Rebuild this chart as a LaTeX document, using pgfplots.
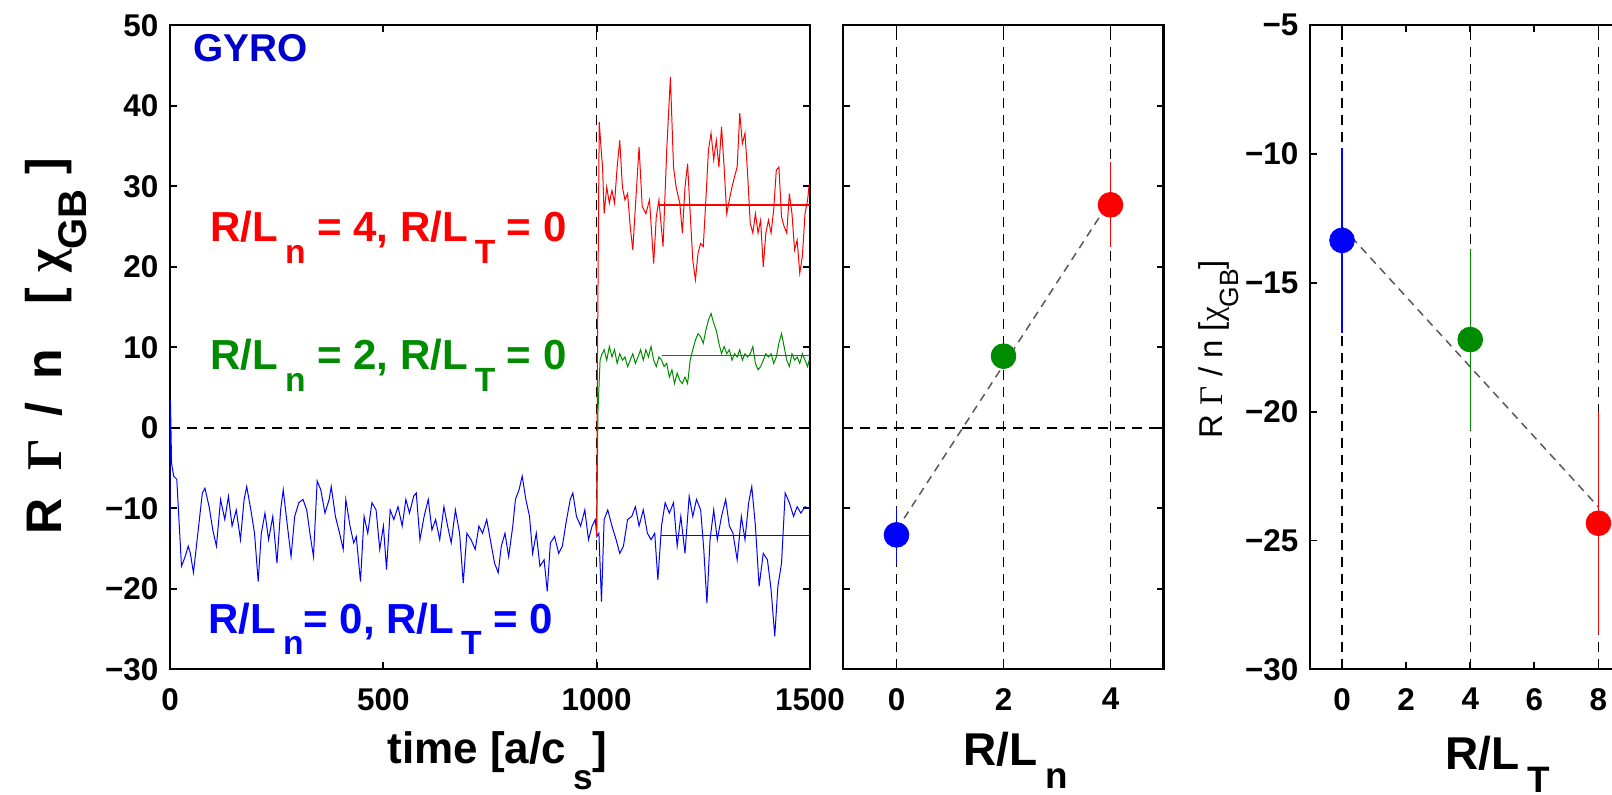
\documentclass[border=0pt]{standalone}
\usepackage{pgfplots}
\pgfplotsset{compat=1.18}
\usepackage{fontspec}
\setmainfont{Liberation Sans}
\newfontfamily\greek{Liberation Serif}
\definecolor{gyroblue}{HTML}{0000CC}
\definecolor{tgreen}{HTML}{008C00}
\definecolor{tred}{HTML}{FF0000}
\definecolor{tblue}{HTML}{0000FF}
\newcommand\sub[2][0.5em]{\raisebox{-#1}{\scalebox{0.8}{#2}}}
\newcommand\ticksfont{\fontsize{15.7}{16}\selectfont\bfseries}
\pgfplotsset{
  panel/.style={
    scale only axis, height=322pt,
    axis line style={line width=0.9pt},
    tick style={line width=0.9pt, black},
    major tick length=3.5pt,
    tick align=inside, xtick pos=both, ytick pos=both,
    xticklabel pos=left, yticklabel pos=left,
    ticklabel style={font=\ticksfont},
    xticklabel style={yshift=-6pt},
    yticklabel style={xshift=-2.3pt},
    /pgf/number format/assume math mode=true,
    /pgf/number format/1000 sep={},
  },
  grid line/.style={black, line width=0.75pt, dash pattern=on 5pt off 3.5pt, forget plot},
  fit line/.style={black!65, line width=0.75pt, dash pattern=on 4pt off 3pt, forget plot},
  dot/.style={color=#1, only marks, mark=*, mark size=6.2pt, mark options={draw=#1, fill=#1},
    error bars/.cd, y dir=both, y explicit, error mark=none,
    error bar style={line width=0.7pt, #1}},
}
\begin{document}
\begin{tikzpicture}
% ---------------- left panel: time traces ----------------
\begin{axis}[panel, at={(85pt,62.35pt)}, anchor=south west, width=320pt,
  xmin=0, xmax=1500, ymin=-30, ymax=50,
  xtick={0,500,1000,1500}, ytick={-30,-20,-10,0,10,20,30,40,50},
  yticklabels={−30,−20,−10,0,10,20,30,40,50}]
\addplot[grid line] coordinates {(0,0) (1500,0)};
\addplot[grid line] coordinates {(1000,-30) (1000,50)};
\addplot[tblue, line width=0.5pt] coordinates {
(0,-13) (1,3.5) (3.7,-4.4) (8.6,-6) (15.9,-6.4) (26.9,-17.2) (35.5,-16) (42.8,-14.7) (47.7,-15.6) (55,-18)
(63.6,-13.9) (75.8,-8.1) (81.9,-7.5) (91.7,-9.8) (100.3,-12.7) (108.8,-14.7) (118.6,-8.9) (128.4,-11.4) (137,-8.5) (145.5,-12.2)
(155.3,-10.2) (165.1,-13.9) (173.7,-8.9) (179.8,-7.3) (189.5,-10.2) (198.1,-13.1) (206.7,-19.1) (214,-13.1) (222.6,-10.6) (231.1,-13.9)
(240.9,-11) (250.7,-16.8) (259.3,-10.2) (265.4,-7.7) (275.2,-12.2) (283.7,-16) (292.3,-11) (302,-9.3) (311.8,-8.9) (320.4,-10.2)
(329,-13.5) (336.3,-16) (344.9,-6.6) (353.4,-7.7) (363.2,-10.6) (373,-8.9) (377.9,-7.3) (387.7,-11) (397.4,-13.1) (406,-15.1)
(412.1,-8.9) (421.9,-12.2) (430.5,-14.3) (436.6,-13.5) (446.4,-19.1) (454.9,-11) (463.5,-13.1) (473.3,-9.3) (483,-10.2) (491.6,-15.1)
(500.2,-12.2) (507.5,-17.6) (516.1,-10.2) (524.6,-11.4) (534.4,-9.8) (544.2,-12.2) (552.8,-8.9) (561.3,-10.6) (571.1,-8.5) (577.2,-8.1)
(585.8,-13.9) (595.6,-11) (605.3,-8.9) (613.9,-12.7) (622.5,-11.4) (632.2,-13.9) (642,-9.8) (650.6,-12.2) (659.1,-14.3) (668.9,-10.2)
(678.7,-13.1) (687.3,-19.3) (695.8,-13.1) (705.6,-13.9) (715.4,-15.1) (724,-12.2) (732.5,-13.1) (742.3,-11.4) (752.1,-14.3) (760.6,-16.8)
(769.2,-18) (776.5,-14.7) (785.1,-13.1) (793.7,-16) (803.4,-12.2) (809.6,-8.9) (818.1,-7.7) (825.5,-6) (834,-8.9) (842.6,-11)
(849.9,-15.6) (858.5,-13.1) (867,-17.2) (876.8,-16.4) (884.2,-20.3) (891.5,-14.3) (901.3,-13.5) (911,-15.6) (919.6,-14.7) (928.2,-11.8)
(938,-8.9) (944.1,-8.1) (952.6,-11) (962.4,-12.2) (972.2,-10.2) (980.8,-13.9) (989.3,-12.2) (996.7,-11.4) (1000.4,-13.5) (1005.2,-13.1)
(1011.3,-21.6) (1017.5,-11.4) (1026,-10.2) (1035.8,-12.2) (1045.6,-13.9) (1054.1,-15.6) (1062.7,-14.7) (1072.5,-11.4) (1082.3,-11) (1090.8,-9.8)
(1099.4,-12.2) (1109.2,-10.2) (1118.9,-13.1) (1127.5,-13.9) (1136.1,-13.1) (1143.4,-18.9) (1152,-12.2) (1160.5,-9.3) (1170.3,-10.6) (1180.1,-9.3)
(1188.7,-14.7) (1197.2,-11) (1207,-15.6) (1216.8,-8.5) (1225.3,-11) (1233.9,-8.9) (1243.7,-10.2) (1251,-15.1) (1258.4,-21.8) (1265.7,-13.9)
(1274.3,-10.2) (1282.8,-13.9) (1292.6,-11) (1302.4,-8.9) (1311,-12.2) (1319.5,-13.1) (1329.3,-16.4) (1339.1,-11) (1347.6,-13.9) (1356.2,-9.3)
(1363.5,-7.3) (1372.1,-12.2) (1380.7,-19.7) (1390.4,-15.6) (1400.2,-16.4) (1408.8,-20.1) (1417.4,-25.9) (1424.7,-19.7) (1433.3,-16.8) (1441.8,-8.1)
(1451.6,-9.3) (1461.4,-11) (1469.9,-9.8) (1478.5,-10.6) (1488.3,-9.8) (1498,-10)};
\addplot[tgreen, line width=0.5pt] coordinates {
(1000,-13.5) (1003,2) (1008,8.4) (1011.3,9) (1017.5,9.7) (1023.6,8.4) (1029.7,10.1) (1035.8,8.8) (1041.9,9.7) (1048,8)
(1054.1,9.2) (1060.3,8.4) (1066.4,8.8) (1072.5,7.6) (1078.6,8.4) (1084.7,9.2) (1090.8,8) (1096.9,8.8) (1103,9.7) (1109.2,8.4)
(1115.3,9.7) (1121.4,8.8) (1127.5,10.1) (1133.6,8.4) (1139.7,7.6) (1145.9,8.8) (1152,8.4) (1158.1,7.6) (1164.2,8) (1170.3,6.3)
(1176.4,7.2) (1182.5,5.5) (1188.7,6.8) (1194.8,5.9) (1200.9,5.5) (1207,6.3) (1213.1,5.5) (1219.2,8.4) (1225.3,9.7) (1231.5,10.9)
(1237.6,11.7) (1243.7,11.3) (1249.8,10.5) (1255.9,12.1) (1262,13.4) (1268.1,14.2) (1274.3,13) (1280.4,12.1) (1286.5,10.5) (1292.6,9.2)
(1298.7,10.1) (1304.8,9.2) (1310.9,9.7) (1317.1,8.4) (1323.2,9.2) (1329.3,8.8) (1335.4,9.7) (1341.5,8.4) (1347.6,9.2) (1353.7,8.8)
(1359.9,9.2) (1366,10.1) (1372.1,8) (1378.2,7.2) (1384.3,7.6) (1390.4,8.4) (1396.5,9.2) (1402.7,8.8) (1408.8,9.2) (1414.9,8)
(1421,8.8) (1427.1,10.5) (1433.2,11.7) (1439.3,10.1) (1445.5,8.4) (1451.6,7.6) (1457.7,9.2) (1463.8,8.4) (1469.9,8.8) (1476,8)
(1482.1,9.2) (1488.3,8.4) (1494.4,7.6) (1498,8.4)};
\addplot[tred, line width=0.5pt] coordinates {
(1000,-13.5) (1002,10) (1006,38) (1011.3,34) (1013.8,32.4) (1017.5,26.6) (1023.6,29.9) (1029.7,27.9) (1035.8,29.5) (1041.9,27.9)
(1048,32.4) (1054.1,35.7) (1060.3,29.9) (1066.4,28.3) (1072.5,29.1) (1078.6,25) (1084.7,22.1) (1090.8,27.5) (1099.4,34.9) (1106.7,27.5)
(1115.3,26.6) (1123.8,28.3) (1133.6,20.4) (1139.7,26.2) (1145.9,28.3) (1155.6,22.5) (1164.2,34.5) (1172.8,43.6) (1180.1,32.4) (1186.2,29.9)
(1194.8,27.9) (1200.9,24.2) (1207,29.9) (1213.1,32.8) (1219.2,26.6) (1225.3,20.8) (1231.5,18.4) (1237.6,21.7) (1243.7,22.9) (1249.8,22.5)
(1255.9,28.3) (1262,34.5) (1268.1,36.6) (1274.3,33.3) (1280.4,35.7) (1286.5,32.4) (1292.6,37.4) (1298.7,32.4) (1304.8,26.6) (1310.9,28.3)
(1317.1,29.9) (1323.2,31.2) (1329.3,32.4) (1335.4,39.1) (1341.5,35.3) (1347.6,36.6) (1353.7,31.6) (1359.9,25.4) (1366,24.2) (1372.1,26.6)
(1378.2,24.2) (1384.3,25.8) (1390.4,20) (1396.5,24.2) (1402.7,25.8) (1408.8,24.2) (1414.9,27.1) (1421,32) (1427.1,32.4) (1433.2,26.2)
(1439.3,25) (1445.5,24.2) (1451.6,29.1) (1457.7,26.6) (1463.8,22.1) (1469.9,23.3) (1476,19.2) (1482.1,21.3) (1488.3,26.6) (1494.4,28.3)
(1498,30.2)};
\addplot[tred, line width=0.7pt] coordinates {(1148,27.7) (1500,27.7)};
\addplot[tgreen, line width=0.7pt] coordinates {(1152,9) (1500,9)};
\addplot[tblue, line width=0.7pt] coordinates {(1150,-13.4) (1500,-13.4)};
\end{axis}
% ---------------- middle panel: R/L_n scan ----------------
\begin{axis}[panel, at={(421.5pt,62.35pt)}, anchor=south west, width=160.5pt,
  xmin=-1, xmax=5, ymin=-30, ymax=50,
  xtick={0,2,4}, ytick={-30,-20,-10,0,10,20,30,40,50}, yticklabels={}]
\addplot[grid line] coordinates {(-1,0) (5,0)};
\addplot[grid line] coordinates {(0,-30) (0,50)};
\addplot[grid line] coordinates {(2,-30) (2,50)};
\addplot[grid line] coordinates {(4,-30) (4,50)};
\addplot[fit line] coordinates {(0,-12.7) (4,28.3)};
\addplot[dot=tblue] coordinates {(0,-13.3) +- (0,3.5)};
\addplot[dot=tgreen] coordinates {(2,8.9) +- (0,1.0)};
\addplot[dot=tred] coordinates {(4,27.7) +- (0,5.3)};
\addplot[black, line width=1.8pt, forget plot] coordinates {(5,-30) (5,50)};
\end{axis}
% ---------------- right panel: R/L_T scan ----------------
\begin{axis}[panel, at={(655pt,62.35pt)}, anchor=south west, width=160.25pt,
  xmin=-1, xmax=9, ymin=-30, ymax=-5,
  xtick={0,2,4,6,8}, ytick={-30,-25,-20,-15,-10,-5},
  yticklabels={−30,−25,−20,−15,−10,−5}]
\addplot[grid line] coordinates {(0,-30) (0,-5)};
\addplot[grid line] coordinates {(4,-30) (4,-5)};
\addplot[grid line] coordinates {(8,-30) (8,-5)};
\addplot[fit line] coordinates {(0,-12.82) (8,-23.7)};
\addplot[dot=tblue] coordinates {(0,-13.35) +- (0,3.6)};
\addplot[dot=tgreen] coordinates {(4,-17.2) +- (0,3.5)};
\addplot[dot=tred] coordinates {(8,-24.33) +- (0,4.3)};
\end{axis}
% ---------------- texts ----------------
\node[anchor=base west, text=gyroblue, font=\fontsize{19.4}{20}\selectfont\bfseries, inner sep=0pt] at (96.5pt,366pt) {GYRO};
\node[anchor=base west, text=tred, font=\fontsize{21}{22}\selectfont\bfseries, inner sep=0pt] at (105pt,276pt) {R/L\,\sub{n} = 4, R/L\,\sub{T} = 0};
\node[anchor=base west, text=tgreen, font=\fontsize{21}{22}\selectfont\bfseries, inner sep=0pt] at (105pt,212pt) {R/L\,\sub{n} = 2, R/L\,\sub{T} = 0};
\node[anchor=base west, text=tblue, font=\fontsize{21}{22}\selectfont\bfseries, inner sep=0pt] at (104pt,80.5pt) {R/L\,\sub{n}= 0, R/L\,\sub{T} = 0};
\node[anchor=base west, font=\fontsize{22}{23}\selectfont\bfseries, inner sep=0pt] at (193.5pt,15.5pt) {time [a/c\,\sub[0.6em]{s}]};
\node[anchor=base west, font=\fontsize{23}{24}\selectfont\bfseries, inner sep=0pt] at (481.5pt,14.5pt) {R/L\,\sub{n}};
\node[anchor=base west, font=\fontsize{23}{24}\selectfont\bfseries, inner sep=0pt] at (722.5pt,12.5pt) {R/L\,\sub{T}};
\node[rotate=90, anchor=base, font=\fontsize{25}{26}\selectfont\bfseries, inner sep=0pt] at (30.85pt,224pt)
  {R\hspace{0.55em}{\greek Γ}\hspace{0.45em}/\hspace{0.45em}n\hspace{0.9em}[\hspace{0.3em}{\greek χ}\sub{GB}\hspace{0.3em}]};
\node[rotate=90, anchor=base, font=\fontsize{16.5}{17}\selectfont, inner sep=0pt] at (611pt,222.5pt)
  {R {\greek Γ} / n [{\greek χ}\sub{GB}]};
\pgfresetboundingbox
\path[use as bounding box] (0pt,0pt) rectangle (806pt,397pt);
\end{tikzpicture}
\end{document}
